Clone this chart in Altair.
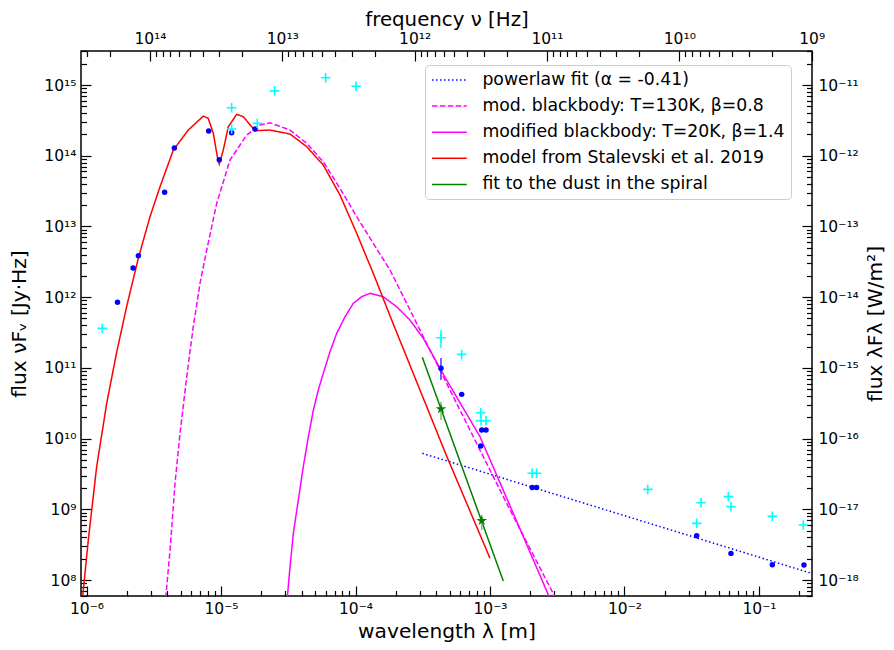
import altair as alt
import pandas as pd

# ---------------- data ----------------
# photometry (blue dots)
BLUE_LAM = [1.70e-6, 2.22e-6, 2.43e-6, 3.81e-6, 4.50e-6, 8.10e-6, 9.71e-6, 1.20e-5, 1.79e-5,
            4.32e-4, 6.16e-4, 8.68e-4, 9.34e-4, 8.53e-4, 2.06e-3, 2.22e-3,
            3.44e-2, 6.19e-2, 0.1256, 0.216]
BLUE_F = [8.45e11, 2.58e12, 3.85e12, 3.04e13, 1.285e14, 2.24e14, 8.78e13, 2.12e14, 2.39e14,
          9.85e10, 4.22e10, 1.32e10, 1.32e10, 7.85e9, 2.04e9, 2.04e9,
          4.23e8, 2.38e8, 1.64e8, 1.63e8]
# total fluxes (cyan pluses)
CYAN_LAM = [1.31e-6, 1.20e-5, 1.20e-5, 1.86e-5, 2.50e-5, 6.00e-5, 1.01e-4,
            4.32e-4, 6.16e-4, 8.53e-4, 8.57e-4, 9.34e-4, 2.06e-3, 2.22e-3,
            1.49e-2, 3.44e-2, 3.71e-2, 5.91e-2, 6.19e-2, 0.1256, 0.2135]
CYAN_F = [3.62e11, 4.77e14, 2.39e14, 2.87e14, 8.28e14, 1.27e15, 9.6e14,
          2.67e11, 1.55e11, 2.32e10, 1.79e10, 1.79e10, 3.23e9, 3.23e9,
          1.91e9, 6.33e8, 1.24e9, 1.51e9, 1.09e9, 7.95e8, 5.99e8]
# spiral dust (green stars)
STAR_LAM = [4.32e-4, 8.68e-4]
STAR_F = [2.62e10, 6.89e8]
# error bars
ERR_LAM = [4.32e-4, 4.32e-4, 4.32e-4, 8.68e-4]
ERR_LO = [6.73e10, 1.89e11, 1.83e10, 5.09e8]
ERR_HI = [1.38e11, 3.43e11, 3.32e10, 8.3e8]
ERR_COL = ["#3a3aff", "#00ffff", "#7fbf7f", "#7fbf7f"]

# curves
PL_LAM = [3.14e-4, 0.2465]
PL_F = [6.19e9, 1.24e8]
MB130_LAM = [3.88e-6, 4.18e-6, 4.55e-6, 4.96e-6, 5.56e-6, 6.22e-6, 6.98e-6, 7.83e-6, 9.29e-6,
             1.166e-5, 1.553e-5, 1.95e-5, 2.313e-5, 3.26e-5, 4.34e-5, 5.76e-5, 7.67e-5,
             1.021e-4, 1.356e-4, 1.805e-4, 2.403e-4, 3.19e-4, 1.293e-3, 3.07e-3]
MB130_F = [5.56e7, 2.65e8, 2.33e9, 1.19e10, 7.49e10, 3.82e11, 1.57e12, 4.64e12, 2.12e13,
           8.70e13, 1.963e14, 2.72e14, 2.93e14, 2.31e14, 1.498e14, 8.23e13, 3.46e13,
           1.373e13, 5.77e12, 2.42e12, 8.18e11, 2.76e11, 1.35e9, 5.56e7]
MB20_LAM = [3.11e-5, 3.26e-5, 3.45e-5, 3.756e-5, 4.09e-5, 4.46e-5, 4.86e-5, 5.29e-5, 5.76e-5,
            6.46e-5, 7.25e-5, 8.36e-5, 9.63e-5, 1.111e-4, 1.282e-4, 1.609e-4,
            2.025e-4, 2.54e-4, 3.19e-4, 4.76e-4, 8.43e-4, 1.49e-3, 2.78e-3]
MB20_F = [5.56e7, 1.54e8, 4.57e8, 1.35e9, 4.0e9, 1.06e10, 2.53e10, 4.86e10, 8.37e10,
          1.69e11, 3.08e11, 5.29e11, 8.18e11, 1.014e12, 1.133e12, 1.014e12,
          7.32e11, 4.75e11, 2.62e11, 6.73e10, 1.062e10, 8.77e8, 5.56e7]
RED_LAM = [9.34e-7, 1.031e-6, 1.19e-6, 1.413e-6, 1.677e-6, 2.0e-6, 2.427e-6, 2.965e-6, 3.52e-6,
           4.42e-6, 5.71e-6, 7.39e-6, 8.04e-6, 8.77e-6, 9.39e-6, 9.71e-6, 1.040e-5, 1.133e-5,
           1.308e-5, 1.465e-5, 1.79e-5, 2.313e-5, 3.26e-5, 4.34e-5, 5.76e-5, 7.67e-5,
           1.021e-4, 1.356e-4, 1.858e-4, 4.76e-4, 1.0e-3]
RED_F = [5.56e7, 3.67e8, 4.0e9, 3.15e10, 1.675e11, 7.74e11, 3.54e12, 1.373e13, 3.645e13,
         1.204e14, 2.31e14, 3.64e14, 3.38e14, 2.075e14, 9.68e13, 7.64e13, 1.204e14, 2.57e14,
         3.85e14, 3.56e14, 2.26e14, 2.31e14, 2.03e14, 1.341e14, 7.39e13, 2.78e13,
         7.99e12, 2.17e12, 4.75e11, 5.67e9, 2.03e8]
GREEN_LAM = [3.14e-4, 1.256e-3]
GREEN_F = [1.41e11, 9.67e7]

NAMES = ["powerlaw fit (α = -0.41)",
         "mod. blackbody: T=130K, β=0.8",
         "modified blackbody: T=20K, β=1.4",
         "model from Stalevski et al. 2019",
         "fit to the dust in the spiral"]
COLORS = ["#0000ff", "#ff00ff", "#ff00ff", "#ff0000", "#008000"]
DASHES = [[1.5, 2.5], [5.5, 2.4], [1, 0], [1, 0], [1, 0]]

# axis ranges
X_DOM = [9.10e-7, 0.2478]
Y_DOM = [5.94e7, 3.03e15]
F_DOM = [9.94e8, 3.32e14]
W_DOM = [5.94e-19, 3.03e-11]

X_MAJOR = [1e-6, 1e-5, 1e-4, 1e-3, 1e-2, 1e-1]
Y_MAJOR = [10.0 ** e for e in range(8, 16)]
F_MAJOR = [10.0 ** e for e in range(9, 15)]
W_MAJOR = [10.0 ** e for e in range(-18, -10)]


def minor(lo, hi, dom):
    out = []
    for e in range(lo, hi + 1):
        for k in range(2, 10):
            v = k * 10.0 ** e
            if dom[0] <= v <= dom[1]:
                out.append(v)
    return out


X_MINOR = minor(-7, -1, X_DOM)
Y_MINOR = minor(7, 15, Y_DOM)
F_MINOR = minor(8, 14, F_DOM)
W_MINOR = minor(-19, -11, W_DOM)

SUP = {"0": "⁰", "1": "¹", "2": "²", "3": "³", "4": "⁴", "5": "⁵",
       "6": "⁶", "7": "⁷", "8": "⁸", "9": "⁹", "-": "⁻"}
expr = "('' + round(log(datum.value)/LN10))"
for k, v in SUP.items():
    expr = f"replace({expr}, regexp('{k}', 'g'), '{v}')"
LABEL_EXPR = "'10' + " + expr

STAR_PATH = ("M0,-1L0.2245,-0.309L0.951,-0.309L0.363,0.118L0.588,0.809L0,0.382"
             "L-0.588,0.809L-0.363,0.118L-0.951,-0.309L-0.2245,-0.309Z")
PLUS_PATH = "M-1,0L1,0M0,-1L0,1"
LEG_PATH = "M-2.2,0L2.2,0"

FONT = "DejaVu Sans"
TICK_FS = 15.5
TITLE_FS = 20.2
MAJ = 10
MIN = 5.5

# ---------------- frames ----------------
rows = []
for name, lam, f in zip(NAMES, [PL_LAM, MB130_LAM, MB20_LAM, RED_LAM, GREEN_LAM],
                        [PL_F, MB130_F, MB20_F, RED_F, GREEN_F]):
    for i, (a, b) in enumerate(zip(lam, f)):
        rows.append({"series": name, "lam": a, "flux": b, "idx": i})
lines_df = pd.DataFrame(rows)
blue_df = pd.DataFrame({"lam": BLUE_LAM, "flux": BLUE_F})
cyan_df = pd.DataFrame({"lam": CYAN_LAM, "flux": CYAN_F})
star_df = pd.DataFrame({"lam": STAR_LAM, "flux": STAR_F})
err_df = pd.DataFrame({"lam": ERR_LAM, "lo": ERR_LO, "hi": ERR_HI, "col": ERR_COL})
dummy = pd.DataFrame({"lam": [1e-3], "flux": [1e10], "freq": [1e12], "watt": [1e-16]})

xs = alt.Scale(type="log", domain=X_DOM, nice=False)
ys = alt.Scale(type="log", domain=Y_DOM, nice=False)
fs = alt.Scale(type="log", domain=F_DOM, nice=False, reverse=True)
ws = alt.Scale(type="log", domain=W_DOM, nice=False)

X = lambda: alt.X("lam:Q", scale=xs, axis=None)
Y = lambda: alt.Y("flux:Q", scale=ys, axis=None)

legend = alt.Legend(title=None, orient="none", legendX=344, legendY=14,
                    symbolType=LEG_PATH, symbolSize=250, symbolStrokeWidth=1.5,
                    symbolOffset=9.4, symbolFillColor="transparent",
                    labelFontSize=17.3, labelFont=FONT, labelOffset=24, labelLimit=500,
                    padding=6, rowPadding=8.1, strokeColor="#cccccc", fillColor="white",
                    cornerRadius=4, labelColor="black")

lines = alt.Chart(lines_df).mark_line(clip=True, strokeWidth=1.5).encode(
    x=X(), y=Y(),
    color=alt.Color("series:N", scale=alt.Scale(domain=NAMES, range=COLORS), legend=legend),
    strokeDash=alt.StrokeDash("series:N", scale=alt.Scale(domain=NAMES, range=DASHES), legend=legend),
    order="idx:Q",
)

errs = alt.Chart(err_df).mark_rule(strokeWidth=1.5).encode(
    x=X(), y=alt.Y("lo:Q", scale=ys, axis=None), y2="hi:Q",
    stroke=alt.Stroke("col:N", scale=None),
)

blue = alt.Chart(blue_df).mark_circle(size=30, color="#0000ff", opacity=1).encode(x=X(), y=Y())
cyan = alt.Chart(cyan_df).mark_point(shape=PLUS_PATH, size=90, stroke="#00ffff",
                                     strokeWidth=1.6, filled=False, opacity=1).encode(x=X(), y=Y())
stars = alt.Chart(star_df).mark_point(shape=STAR_PATH, size=120, color="#008000", filled=True,
                                      opacity=1).encode(x=X(), y=Y())


def ax_layer(x, y):
    return alt.Chart(dummy).mark_point(opacity=0).encode(x=x, y=y)


common = dict(domain=False, grid=False, tickColor="black", tickWidth=1.2)
lab = dict(labelExpr=LABEL_EXPR, labelFont=FONT, labelFontSize=TICK_FS, labelColor="black",
           labelFlush=False, labelOverlap=False, titleFont=FONT,
           titleFontWeight="normal", titleColor="black")

axes = [
    # bottom
    ax_layer(alt.X("lam:Q", scale=xs, axis=alt.Axis(orient="bottom", values=X_MAJOR, tickSize=MAJ,
                                                      offset=-MAJ, labelPadding=5,
                                                      title="wavelength λ [m]", titlePadding=5,
                                                      titleFontSize=TITLE_FS,
                                                      **common, **lab)), Y()),
    ax_layer(alt.X("lam:Q", scale=xs, axis=alt.Axis(orient="bottom", values=X_MINOR, tickSize=MIN,
                                                      offset=-MIN, labels=False, title=None,
                                                      **common)), Y()),
    # top
    ax_layer(alt.X("freq:Q", scale=fs, axis=alt.Axis(orient="top", values=F_MAJOR, tickSize=MAJ,
                                                       offset=-MAJ, labelPadding=4.5,
                                                       title="frequency ν [Hz]", titlePadding=2,
                                                       titleFontSize=19.8,
                                                       **common, **lab)), Y()),
    ax_layer(alt.X("freq:Q", scale=fs, axis=alt.Axis(orient="top", values=F_MINOR, tickSize=MIN,
                                                       offset=-MIN, labels=False, title=None,
                                                       **common)), Y()),
    # left
    ax_layer(X(), alt.Y("flux:Q", scale=ys, axis=alt.Axis(orient="left", values=Y_MAJOR, tickSize=MAJ,
                                                            offset=-MAJ, labelPadding=5,
                                                            title="flux νFᵥ [Jy·Hz]", titlePadding=14,
                                                            titleFontSize=TITLE_FS,
                                                            **common, **lab))),
    ax_layer(X(), alt.Y("flux:Q", scale=ys, axis=alt.Axis(orient="left", values=Y_MINOR, tickSize=MIN,
                                                            offset=-MIN, labels=False, title=None,
                                                            **common))),
    # right
    ax_layer(X(), alt.Y("watt:Q", scale=ws, axis=alt.Axis(orient="right", values=W_MAJOR, tickSize=MAJ,
                                                            offset=-MAJ, labelPadding=6,
                                                            title="flux λFλ [W/m²]", titlePadding=7,
                                                            titleAngle=270, titleBaseline="top",
                                                            titleFontSize=TITLE_FS,
                                                            **common, **lab))),
    ax_layer(X(), alt.Y("watt:Q", scale=ws, axis=alt.Axis(orient="right", values=W_MINOR, tickSize=MIN,
                                                            offset=-MIN, labels=False, title=None,
                                                            **common))),
]

chart = alt.layer(lines, errs, blue, cyan, stars, *axes).resolve_scale(
    x="independent", y="independent"
).resolve_axis(
    x="independent", y="independent"
).properties(
    width=731, height=545,
    padding={"left": 73, "top": 43, "right": 74, "bottom": 46},
    autosize=alt.AutoSizeParams(type="none"),
).configure(font=FONT).configure_view(stroke="black", strokeWidth=1.5)

chart.save("out.html", embed_options={"renderer": "svg", "actions": False})
